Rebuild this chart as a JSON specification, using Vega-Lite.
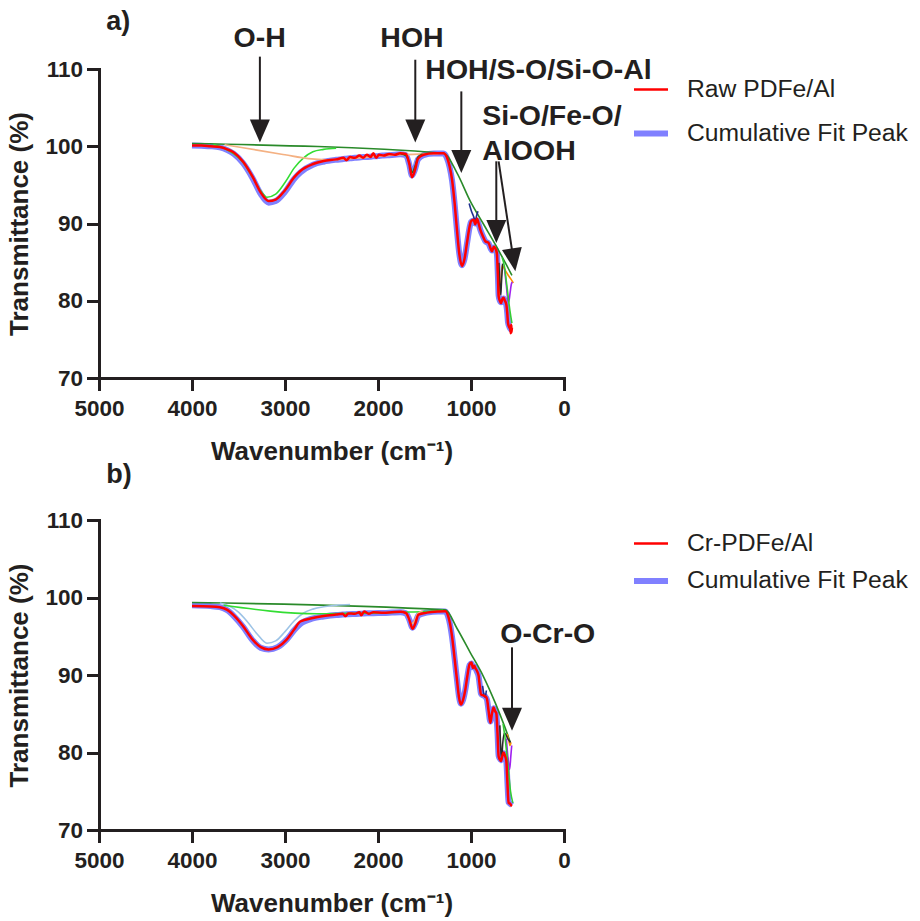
{
  "$schema": "https://vega.github.io/schema/vega-lite/v6.json",
  "background": "white",
  "padding": {"left": 6, "top": 7, "right": 5, "bottom": 5},
  "config": {
    "view": {"stroke": null},
    "font": "Liberation Sans",
    "axis": {
      "grid": false,
      "domainColor": "#231f20", "domainWidth": 3, "domainCap": "square",
      "tickColor": "#231f20", "tickWidth": 3, "tickSize": 12.5,
      "labelFont": "Liberation Sans", "labelFontSize": 22.5, "labelFontWeight": "bold", "labelColor": "#231f20",
      "labelFlush": false, "labelOverlap": false, "labelBound": false,
      "titleFont": "Liberation Sans", "titleFontSize": 26, "titleFontWeight": "bold", "titleColor": "#231f20"
    },
    "axisX": {"labelPadding": 7, "titlePadding": 18},
    "axisY": {"labelPadding": 4, "titlePadding": 12},
    "legend": {
      "labelFont": "Liberation Sans", "labelFontSize": 24.7, "labelColor": "#231f20", "labelLimit": 0,
      "symbolType": "stroke", "symbolSize": 1156, "labelOffset": 16
    }
  },
  "datasets": {
    "a_main": [
      {"wn": 4000, "Raw PDFe/Al": 100.1, "Cumulative Fit Peak": 100.1},
      {"wn": 3900, "Raw PDFe/Al": 100.1, "Cumulative Fit Peak": 100.05},
      {"wn": 3800, "Raw PDFe/Al": 100.0, "Cumulative Fit Peak": 100.0},
      {"wn": 3700, "Raw PDFe/Al": 99.9, "Cumulative Fit Peak": 99.85},
      {"wn": 3620, "Raw PDFe/Al": 99.6, "Cumulative Fit Peak": 99.5},
      {"wn": 3550, "Raw PDFe/Al": 99.2, "Cumulative Fit Peak": 99.0},
      {"wn": 3450, "Raw PDFe/Al": 98.0, "Cumulative Fit Peak": 97.8},
      {"wn": 3350, "Raw PDFe/Al": 96.1, "Cumulative Fit Peak": 95.9},
      {"wn": 3260, "Raw PDFe/Al": 94.0, "Cumulative Fit Peak": 93.8},
      {"wn": 3176, "Raw PDFe/Al": 92.9, "Cumulative Fit Peak": 92.7},
      {"wn": 3100, "Raw PDFe/Al": 93.1, "Cumulative Fit Peak": 92.9},
      {"wn": 3000, "Raw PDFe/Al": 94.3, "Cumulative Fit Peak": 94.1},
      {"wn": 2900, "Raw PDFe/Al": 96.0, "Cumulative Fit Peak": 95.8},
      {"wn": 2835, "Raw PDFe/Al": 96.8, "Cumulative Fit Peak": 96.6},
      {"wn": 2700, "Raw PDFe/Al": 97.7, "Cumulative Fit Peak": 97.6},
      {"wn": 2585, "Raw PDFe/Al": 98.1, "Cumulative Fit Peak": 98.0},
      {"wn": 2450, "Raw PDFe/Al": 98.3, "Cumulative Fit Peak": 98.25},
      {"wn": 2370, "Raw PDFe/Al": 98.5, "Cumulative Fit Peak": 98.35},
      {"wn": 2340, "Raw PDFe/Al": 98.2, "Cumulative Fit Peak": 98.4},
      {"wn": 2300, "Raw PDFe/Al": 98.6, "Cumulative Fit Peak": 98.45},
      {"wn": 2250, "Raw PDFe/Al": 98.5, "Cumulative Fit Peak": 98.5},
      {"wn": 2200, "Raw PDFe/Al": 98.8, "Cumulative Fit Peak": 98.55},
      {"wn": 2160, "Raw PDFe/Al": 98.5, "Cumulative Fit Peak": 98.6},
      {"wn": 2120, "Raw PDFe/Al": 98.9, "Cumulative Fit Peak": 98.6},
      {"wn": 2080, "Raw PDFe/Al": 98.6, "Cumulative Fit Peak": 98.65},
      {"wn": 2050, "Raw PDFe/Al": 99.1, "Cumulative Fit Peak": 98.7},
      {"wn": 2020, "Raw PDFe/Al": 98.5, "Cumulative Fit Peak": 98.7},
      {"wn": 1990, "Raw PDFe/Al": 98.9, "Cumulative Fit Peak": 98.75},
      {"wn": 1940, "Raw PDFe/Al": 98.8, "Cumulative Fit Peak": 98.8},
      {"wn": 1880, "Raw PDFe/Al": 99.0, "Cumulative Fit Peak": 98.85},
      {"wn": 1820, "Raw PDFe/Al": 98.9, "Cumulative Fit Peak": 98.9},
      {"wn": 1760, "Raw PDFe/Al": 99.1, "Cumulative Fit Peak": 98.95},
      {"wn": 1700, "Raw PDFe/Al": 99.0, "Cumulative Fit Peak": 98.85},
      {"wn": 1665, "Raw PDFe/Al": 97.8, "Cumulative Fit Peak": 97.7},
      {"wn": 1634, "Raw PDFe/Al": 96.0, "Cumulative Fit Peak": 96.2},
      {"wn": 1605, "Raw PDFe/Al": 96.8, "Cumulative Fit Peak": 96.9},
      {"wn": 1570, "Raw PDFe/Al": 98.4, "Cumulative Fit Peak": 98.3},
      {"wn": 1510, "Raw PDFe/Al": 98.9, "Cumulative Fit Peak": 98.85},
      {"wn": 1400, "Raw PDFe/Al": 99.1, "Cumulative Fit Peak": 99.05},
      {"wn": 1295, "Raw PDFe/Al": 99.1, "Cumulative Fit Peak": 99.05},
      {"wn": 1260, "Raw PDFe/Al": 98.6, "Cumulative Fit Peak": 98.5},
      {"wn": 1230, "Raw PDFe/Al": 97.4, "Cumulative Fit Peak": 97.3},
      {"wn": 1204, "Raw PDFe/Al": 95.7, "Cumulative Fit Peak": 95.6},
      {"wn": 1175, "Raw PDFe/Al": 92.5, "Cumulative Fit Peak": 92.4},
      {"wn": 1151, "Raw PDFe/Al": 89.2, "Cumulative Fit Peak": 89.1},
      {"wn": 1125, "Raw PDFe/Al": 86.0, "Cumulative Fit Peak": 86.0},
      {"wn": 1097, "Raw PDFe/Al": 84.5, "Cumulative Fit Peak": 84.6},
      {"wn": 1070, "Raw PDFe/Al": 85.4, "Cumulative Fit Peak": 85.4},
      {"wn": 1043, "Raw PDFe/Al": 87.5, "Cumulative Fit Peak": 87.4},
      {"wn": 1015, "Raw PDFe/Al": 89.6, "Cumulative Fit Peak": 89.5},
      {"wn": 1000, "Raw PDFe/Al": 90.3, "Cumulative Fit Peak": 90.2},
      {"wn": 972, "Raw PDFe/Al": 90.5, "Cumulative Fit Peak": 90.4},
      {"wn": 954, "Raw PDFe/Al": 89.9, "Cumulative Fit Peak": 90.0},
      {"wn": 935, "Raw PDFe/Al": 90.6, "Cumulative Fit Peak": 90.4},
      {"wn": 918, "Raw PDFe/Al": 90.0, "Cumulative Fit Peak": 89.9},
      {"wn": 900, "Raw PDFe/Al": 89.2, "Cumulative Fit Peak": 89.2},
      {"wn": 870, "Raw PDFe/Al": 88.3, "Cumulative Fit Peak": 88.3},
      {"wn": 846, "Raw PDFe/Al": 87.7, "Cumulative Fit Peak": 87.7},
      {"wn": 811, "Raw PDFe/Al": 87.5, "Cumulative Fit Peak": 87.4},
      {"wn": 790, "Raw PDFe/Al": 86.8, "Cumulative Fit Peak": 86.8},
      {"wn": 774, "Raw PDFe/Al": 86.4, "Cumulative Fit Peak": 86.5},
      {"wn": 755, "Raw PDFe/Al": 87.0, "Cumulative Fit Peak": 86.9},
      {"wn": 739, "Raw PDFe/Al": 86.8, "Cumulative Fit Peak": 86.7},
      {"wn": 722, "Raw PDFe/Al": 86.2, "Cumulative Fit Peak": 86.1},
      {"wn": 710, "Raw PDFe/Al": 83.0, "Cumulative Fit Peak": 83.0},
      {"wn": 703, "Raw PDFe/Al": 80.6, "Cumulative Fit Peak": 80.7},
      {"wn": 690, "Raw PDFe/Al": 80.0, "Cumulative Fit Peak": 80.0},
      {"wn": 677, "Raw PDFe/Al": 79.7, "Cumulative Fit Peak": 79.8},
      {"wn": 660, "Raw PDFe/Al": 80.3, "Cumulative Fit Peak": 80.2},
      {"wn": 649, "Raw PDFe/Al": 80.4, "Cumulative Fit Peak": 80.3},
      {"wn": 635, "Raw PDFe/Al": 80.0, "Cumulative Fit Peak": 80.0},
      {"wn": 620, "Raw PDFe/Al": 79.5, "Cumulative Fit Peak": 79.4},
      {"wn": 610, "Raw PDFe/Al": 78.4, "Cumulative Fit Peak": 78.4},
      {"wn": 602, "Raw PDFe/Al": 77.1, "Cumulative Fit Peak": 77.2},
      {"wn": 590, "Raw PDFe/Al": 76.6, "Cumulative Fit Peak": 76.7},
      {"wn": 578, "Raw PDFe/Al": 76.3, "Cumulative Fit Peak": 76.4},
      {"wn": 572, "Raw PDFe/Al": 75.8, "Cumulative Fit Peak": 76.3},
      {"wn": 568, "Raw PDFe/Al": 76.9, "Cumulative Fit Peak": 76.3},
      {"wn": 564, "Raw PDFe/Al": 75.9, "Cumulative Fit Peak": 76.3},
      {"wn": 560, "Raw PDFe/Al": 76.5, "Cumulative Fit Peak": 76.3}
    ],
    "a_comp": [
      {"comp": "Baseline", "wn": 4000, "t": 100.35},
      {"comp": "Baseline", "wn": 1295, "t": 99.1},
      {"comp": "Baseline", "wn": 1151, "t": 96.55},
      {"comp": "Baseline", "wn": 1008, "t": 92.9},
      {"comp": "Baseline", "wn": 865, "t": 89.9},
      {"comp": "Baseline", "wn": 739, "t": 87.3},
      {"comp": "Baseline", "wn": 613, "t": 84.5},
      {"comp": "Baseline", "wn": 560, "t": 83.3},
      {"comp": "OH", "wn": 3770, "t": 100.25},
      {"comp": "OH", "wn": 3650, "t": 99.7},
      {"comp": "OH", "wn": 3550, "t": 99.0},
      {"comp": "OH", "wn": 3450, "t": 97.9},
      {"comp": "OH", "wn": 3350, "t": 96.0},
      {"comp": "OH", "wn": 3260, "t": 94.2},
      {"comp": "OH", "wn": 3194, "t": 93.4},
      {"comp": "OH", "wn": 3100, "t": 93.8},
      {"comp": "OH", "wn": 3000, "t": 95.3},
      {"comp": "OH", "wn": 2900, "t": 97.2},
      {"comp": "OH", "wn": 2800, "t": 98.5},
      {"comp": "OH", "wn": 2700, "t": 99.3},
      {"comp": "OH", "wn": 2585, "t": 99.6},
      {"comp": "OH", "wn": 2450, "t": 99.75},
      {"comp": "Broad", "wn": 3650, "t": 100.2},
      {"comp": "Broad", "wn": 3300, "t": 99.5},
      {"comp": "Broad", "wn": 3000, "t": 98.9},
      {"comp": "Broad", "wn": 2750, "t": 98.4},
      {"comp": "Broad", "wn": 2550, "t": 98.25},
      {"comp": "Broad", "wn": 2300, "t": 98.4},
      {"comp": "Broad", "wn": 2000, "t": 98.7},
      {"comp": "Broad", "wn": 1750, "t": 98.9},
      {"comp": "Broad", "wn": 1500, "t": 99.0},
      {"comp": "Broad", "wn": 1350, "t": 99.05},
      {"comp": "HOH", "wn": 1760, "t": 99.05},
      {"comp": "HOH", "wn": 1700, "t": 98.8},
      {"comp": "HOH", "wn": 1665, "t": 97.9},
      {"comp": "HOH", "wn": 1634, "t": 96.6},
      {"comp": "HOH", "wn": 1605, "t": 97.3},
      {"comp": "HOH", "wn": 1570, "t": 98.6},
      {"comp": "HOH", "wn": 1520, "t": 99.0},
      {"comp": "FP1", "wn": 1020, "t": 92.6},
      {"comp": "FP1", "wn": 995, "t": 91.6},
      {"comp": "FP1", "wn": 972, "t": 90.9},
      {"comp": "FP1", "wn": 955, "t": 90.3},
      {"comp": "FP1", "wn": 940, "t": 91.0},
      {"comp": "FP1", "wn": 925, "t": 91.6},
      {"comp": "FP2", "wn": 745, "t": 87.1},
      {"comp": "FP2", "wn": 720, "t": 85.6},
      {"comp": "FP2", "wn": 705, "t": 81.5},
      {"comp": "FP2", "wn": 692, "t": 80.6},
      {"comp": "FP2", "wn": 680, "t": 82.2},
      {"comp": "FP2", "wn": 665, "t": 84.6},
      {"comp": "FP2", "wn": 640, "t": 84.1},
      {"comp": "FP2", "wn": 600, "t": 83.3},
      {"comp": "FP2", "wn": 560, "t": 82.6},
      {"comp": "FP2", "wn": 545, "t": 82.3},
      {"comp": "FP3", "wn": 640, "t": 84.2},
      {"comp": "FP3", "wn": 620, "t": 82.0},
      {"comp": "FP3", "wn": 605, "t": 80.2},
      {"comp": "FP3", "wn": 595, "t": 79.8},
      {"comp": "FP3", "wn": 580, "t": 81.0},
      {"comp": "FP3", "wn": 565, "t": 82.2},
      {"comp": "FP3", "wn": 555, "t": 82.4},
      {"comp": "FP4", "wn": 700, "t": 84.9},
      {"comp": "FP4", "wn": 690, "t": 82.0},
      {"comp": "FP4", "wn": 680, "t": 80.8},
      {"comp": "FP4", "wn": 672, "t": 82.5},
      {"comp": "FP4", "wn": 660, "t": 84.8},
      {"comp": "FP5", "wn": 665, "t": 85.6},
      {"comp": "FP5", "wn": 640, "t": 84.4},
      {"comp": "FP5", "wn": 620, "t": 82.5},
      {"comp": "FP5", "wn": 600, "t": 80.5},
      {"comp": "FP5", "wn": 580, "t": 78.6},
      {"comp": "FP5", "wn": 560, "t": 77.1}
    ],
    "a_rules": [
      {"wn": 3270, "wn2": 3270, "t": 111.6, "t2": 102.5},
      {"wn": 1599, "wn2": 1599, "t": 111.2, "t2": 102.5},
      {"wn": 1104, "wn2": 1104, "t": 107.1, "t2": 98.7},
      {"wn": 728, "wn2": 728, "t": 98.05, "t2": 89.6},
      {"wn": 703, "wn2": 551, "t": 98.05, "t2": 85.9}
    ],
    "a_heads": [
      {"kind": "straight", "wn": 3270, "t": 101.96},
      {"kind": "straight", "wn": 1599, "t": 101.96},
      {"kind": "straight", "wn": 1104, "t": 98.02},
      {"kind": "straight", "wn": 728, "t": 88.98},
      {"kind": "slanted", "wn": 542, "t": 85.3}
    ],
    "a_text": [
      {"label": "O-H", "wn": 3553, "t": 112.8},
      {"label": "HOH", "wn": 1975, "t": 112.85},
      {"label": "HOH/S-O/Si-O-Al", "wn": 1491, "t": 108.76},
      {"label": "Si-O/Fe-O/", "wn": 878, "t": 102.74},
      {"label": "AlOOH", "wn": 878, "t": 98.27}
    ],
    "a_panel": [{"label": "a)", "wn": 4922, "t": 115.1}],
    "b_main": [
      {"wn": 4000, "Cr-PDFe/Al": 98.9, "Cumulative Fit Peak": 99.0},
      {"wn": 3800, "Cr-PDFe/Al": 98.85, "Cumulative Fit Peak": 98.9},
      {"wn": 3700, "Cr-PDFe/Al": 98.75, "Cumulative Fit Peak": 98.75},
      {"wn": 3620, "Cr-PDFe/Al": 98.4, "Cumulative Fit Peak": 98.35},
      {"wn": 3550, "Cr-PDFe/Al": 97.7, "Cumulative Fit Peak": 97.6},
      {"wn": 3450, "Cr-PDFe/Al": 96.3, "Cumulative Fit Peak": 96.2},
      {"wn": 3350, "Cr-PDFe/Al": 94.6, "Cumulative Fit Peak": 94.5},
      {"wn": 3260, "Cr-PDFe/Al": 93.6, "Cumulative Fit Peak": 93.5},
      {"wn": 3176, "Cr-PDFe/Al": 93.3, "Cumulative Fit Peak": 93.3},
      {"wn": 3080, "Cr-PDFe/Al": 93.6, "Cumulative Fit Peak": 93.6},
      {"wn": 2980, "Cr-PDFe/Al": 94.6, "Cumulative Fit Peak": 94.6},
      {"wn": 2900, "Cr-PDFe/Al": 95.9, "Cumulative Fit Peak": 95.8},
      {"wn": 2835, "Cr-PDFe/Al": 96.9, "Cumulative Fit Peak": 96.6},
      {"wn": 2700, "Cr-PDFe/Al": 97.35, "Cumulative Fit Peak": 97.3},
      {"wn": 2585, "Cr-PDFe/Al": 97.6, "Cumulative Fit Peak": 97.55},
      {"wn": 2450, "Cr-PDFe/Al": 97.8, "Cumulative Fit Peak": 97.75},
      {"wn": 2380, "Cr-PDFe/Al": 97.9, "Cumulative Fit Peak": 97.8},
      {"wn": 2350, "Cr-PDFe/Al": 97.6, "Cumulative Fit Peak": 97.82},
      {"wn": 2320, "Cr-PDFe/Al": 97.95, "Cumulative Fit Peak": 97.85},
      {"wn": 2250, "Cr-PDFe/Al": 97.9, "Cumulative Fit Peak": 97.88},
      {"wn": 2200, "Cr-PDFe/Al": 98.1, "Cumulative Fit Peak": 97.9},
      {"wn": 2180, "Cr-PDFe/Al": 97.7, "Cumulative Fit Peak": 97.92},
      {"wn": 2150, "Cr-PDFe/Al": 98.2, "Cumulative Fit Peak": 97.94},
      {"wn": 2100, "Cr-PDFe/Al": 97.9, "Cumulative Fit Peak": 97.96},
      {"wn": 2050, "Cr-PDFe/Al": 98.1, "Cumulative Fit Peak": 97.98},
      {"wn": 1940, "Cr-PDFe/Al": 98.03, "Cumulative Fit Peak": 98.0},
      {"wn": 1850, "Cr-PDFe/Al": 98.1, "Cumulative Fit Peak": 98.05},
      {"wn": 1760, "Cr-PDFe/Al": 98.16, "Cumulative Fit Peak": 98.1},
      {"wn": 1700, "Cr-PDFe/Al": 98.0, "Cumulative Fit Peak": 97.95},
      {"wn": 1665, "Cr-PDFe/Al": 97.2, "Cumulative Fit Peak": 97.2},
      {"wn": 1628, "Cr-PDFe/Al": 95.97, "Cumulative Fit Peak": 96.1},
      {"wn": 1600, "Cr-PDFe/Al": 96.6, "Cumulative Fit Peak": 96.7},
      {"wn": 1565, "Cr-PDFe/Al": 97.8, "Cumulative Fit Peak": 97.7},
      {"wn": 1475, "Cr-PDFe/Al": 98.05, "Cumulative Fit Peak": 98.05},
      {"wn": 1350, "Cr-PDFe/Al": 98.2, "Cumulative Fit Peak": 98.2},
      {"wn": 1276, "Cr-PDFe/Al": 98.24, "Cumulative Fit Peak": 98.2},
      {"wn": 1245, "Cr-PDFe/Al": 97.6, "Cumulative Fit Peak": 97.5},
      {"wn": 1225, "Cr-PDFe/Al": 96.6, "Cumulative Fit Peak": 96.5},
      {"wn": 1204, "Cr-PDFe/Al": 95.0, "Cumulative Fit Peak": 94.9},
      {"wn": 1175, "Cr-PDFe/Al": 92.0, "Cumulative Fit Peak": 92.0},
      {"wn": 1151, "Cr-PDFe/Al": 89.4, "Cumulative Fit Peak": 89.4},
      {"wn": 1130, "Cr-PDFe/Al": 87.2, "Cumulative Fit Peak": 87.3},
      {"wn": 1108, "Cr-PDFe/Al": 86.2, "Cumulative Fit Peak": 86.3},
      {"wn": 1085, "Cr-PDFe/Al": 86.8, "Cumulative Fit Peak": 86.8},
      {"wn": 1061, "Cr-PDFe/Al": 88.1, "Cumulative Fit Peak": 88.1},
      {"wn": 1040, "Cr-PDFe/Al": 89.8, "Cumulative Fit Peak": 89.7},
      {"wn": 1015, "Cr-PDFe/Al": 91.4, "Cumulative Fit Peak": 91.3},
      {"wn": 995, "Cr-PDFe/Al": 91.6, "Cumulative Fit Peak": 91.5},
      {"wn": 979, "Cr-PDFe/Al": 90.9, "Cumulative Fit Peak": 91.0},
      {"wn": 965, "Cr-PDFe/Al": 91.2, "Cumulative Fit Peak": 91.1},
      {"wn": 954, "Cr-PDFe/Al": 90.9, "Cumulative Fit Peak": 90.9},
      {"wn": 935, "Cr-PDFe/Al": 90.5, "Cumulative Fit Peak": 90.4},
      {"wn": 918, "Cr-PDFe/Al": 89.9, "Cumulative Fit Peak": 89.8},
      {"wn": 905, "Cr-PDFe/Al": 88.5, "Cumulative Fit Peak": 88.6},
      {"wn": 893, "Cr-PDFe/Al": 87.5, "Cumulative Fit Peak": 87.6},
      {"wn": 875, "Cr-PDFe/Al": 87.4, "Cumulative Fit Peak": 87.4},
      {"wn": 857, "Cr-PDFe/Al": 87.3, "Cumulative Fit Peak": 87.3},
      {"wn": 840, "Cr-PDFe/Al": 87.2, "Cumulative Fit Peak": 87.1},
      {"wn": 828, "Cr-PDFe/Al": 86.9, "Cumulative Fit Peak": 86.8},
      {"wn": 810, "Cr-PDFe/Al": 85.3, "Cumulative Fit Peak": 85.3},
      {"wn": 792, "Cr-PDFe/Al": 83.85, "Cumulative Fit Peak": 84.0},
      {"wn": 775, "Cr-PDFe/Al": 85.0, "Cumulative Fit Peak": 85.0},
      {"wn": 757, "Cr-PDFe/Al": 85.8, "Cumulative Fit Peak": 85.7},
      {"wn": 740, "Cr-PDFe/Al": 85.3, "Cumulative Fit Peak": 85.3},
      {"wn": 728, "Cr-PDFe/Al": 85.1, "Cumulative Fit Peak": 85.0},
      {"wn": 715, "Cr-PDFe/Al": 82.5, "Cumulative Fit Peak": 82.6},
      {"wn": 703, "Cr-PDFe/Al": 79.5, "Cumulative Fit Peak": 79.6},
      {"wn": 690, "Cr-PDFe/Al": 79.1, "Cumulative Fit Peak": 79.2},
      {"wn": 677, "Cr-PDFe/Al": 78.9, "Cumulative Fit Peak": 79.0},
      {"wn": 662, "Cr-PDFe/Al": 79.6, "Cumulative Fit Peak": 79.6},
      {"wn": 649, "Cr-PDFe/Al": 80.0, "Cumulative Fit Peak": 79.9},
      {"wn": 635, "Cr-PDFe/Al": 79.6, "Cumulative Fit Peak": 79.5},
      {"wn": 620, "Cr-PDFe/Al": 78.9, "Cumulative Fit Peak": 78.8},
      {"wn": 608, "Cr-PDFe/Al": 76.0, "Cumulative Fit Peak": 76.1},
      {"wn": 596, "Cr-PDFe/Al": 73.5, "Cumulative Fit Peak": 73.6},
      {"wn": 580, "Cr-PDFe/Al": 73.4, "Cumulative Fit Peak": 73.4},
      {"wn": 569, "Cr-PDFe/Al": 73.2, "Cumulative Fit Peak": 73.3},
      {"wn": 559, "Cr-PDFe/Al": 73.1, "Cumulative Fit Peak": 73.2}
    ],
    "b_comp": [
      {"comp": "Baseline", "wn": 4000, "t": 99.35},
      {"comp": "Baseline", "wn": 1276, "t": 98.4},
      {"comp": "Baseline", "wn": 1150, "t": 96.0},
      {"comp": "Baseline", "wn": 1008, "t": 92.9},
      {"comp": "Baseline", "wn": 870, "t": 89.9},
      {"comp": "Baseline", "wn": 739, "t": 86.4},
      {"comp": "Baseline", "wn": 640, "t": 83.4},
      {"comp": "Baseline", "wn": 577, "t": 81.3},
      {"comp": "OH", "wn": 3700, "t": 99.3},
      {"comp": "OH", "wn": 3600, "t": 98.9},
      {"comp": "OH", "wn": 3500, "t": 98.1},
      {"comp": "OH", "wn": 3400, "t": 96.8},
      {"comp": "OH", "wn": 3300, "t": 95.3},
      {"comp": "OH", "wn": 3194, "t": 94.1},
      {"comp": "OH", "wn": 3100, "t": 94.4},
      {"comp": "OH", "wn": 3000, "t": 95.6},
      {"comp": "OH", "wn": 2900, "t": 97.0},
      {"comp": "OH", "wn": 2800, "t": 98.0},
      {"comp": "OH", "wn": 2700, "t": 98.5},
      {"comp": "OH", "wn": 2585, "t": 98.8},
      {"comp": "OH", "wn": 2450, "t": 99.0},
      {"comp": "OH", "wn": 2300, "t": 99.1},
      {"comp": "Broad", "wn": 3660, "t": 99.0},
      {"comp": "Broad", "wn": 2656, "t": 97.9},
      {"comp": "Broad", "wn": 2300, "t": 97.95},
      {"comp": "Broad", "wn": 2000, "t": 98.0},
      {"comp": "Broad", "wn": 1760, "t": 98.1},
      {"comp": "Broad", "wn": 1500, "t": 98.2},
      {"comp": "Broad", "wn": 1300, "t": 98.35},
      {"comp": "HOH", "wn": 1740, "t": 98.3},
      {"comp": "HOH", "wn": 1690, "t": 97.7},
      {"comp": "HOH", "wn": 1640, "t": 96.6},
      {"comp": "HOH", "wn": 1610, "t": 96.9},
      {"comp": "HOH", "wn": 1575, "t": 97.9},
      {"comp": "HOH", "wn": 1520, "t": 98.25},
      {"comp": "FP1", "wn": 875, "t": 88.6},
      {"comp": "FP1", "wn": 860, "t": 87.4},
      {"comp": "FP1", "wn": 848, "t": 87.1},
      {"comp": "FP1", "wn": 835, "t": 88.0},
      {"comp": "FP2", "wn": 612, "t": 82.4},
      {"comp": "FP2", "wn": 595, "t": 81.6},
      {"comp": "FP2", "wn": 580, "t": 80.9},
      {"comp": "FP2", "wn": 570, "t": 81.3},
      {"comp": "FP3", "wn": 620, "t": 81.8},
      {"comp": "FP3", "wn": 600, "t": 79.0},
      {"comp": "FP3", "wn": 585, "t": 77.8},
      {"comp": "FP3", "wn": 572, "t": 79.5},
      {"comp": "FP3", "wn": 562, "t": 80.9},
      {"comp": "FP4", "wn": 690, "t": 83.5},
      {"comp": "FP4", "wn": 680, "t": 80.5},
      {"comp": "FP4", "wn": 670, "t": 79.1},
      {"comp": "FP4", "wn": 660, "t": 81.0},
      {"comp": "FP4", "wn": 640, "t": 82.5},
      {"comp": "FP4", "wn": 600, "t": 81.7},
      {"comp": "FP4", "wn": 575, "t": 81.3},
      {"comp": "FP5", "wn": 655, "t": 83.7},
      {"comp": "FP5", "wn": 630, "t": 81.5},
      {"comp": "FP5", "wn": 600, "t": 78.0},
      {"comp": "FP5", "wn": 575, "t": 75.0},
      {"comp": "FP5", "wn": 550, "t": 73.5}
    ],
    "b_rules": [
      {"wn": 559, "wn2": 559, "t": 93.57, "t2": 85.1}
    ],
    "b_heads": [
      {"kind": "straight", "wn": 559, "t": 84.3}
    ],
    "b_text": [
      {"label": "O-Cr-O", "wn": 685, "t": 94.17}
    ],
    "b_panel": [{"label": "b)", "wn": 4922, "t": 114.8}]
  },
  "bounds": "flush",
  "spacing": 142,
  "resolve": {
    "scale": {"x": "independent", "y": "independent", "color": "independent", "strokeWidth": "independent", "stroke": "independent"},
    "legend": {"color": "independent", "strokeWidth": "independent"}
  },
  "vconcat": [
    {
      "width": 465,
      "height": 309,
      "encoding": {
        "x": {"field": "wn", "type": "quantitative", "title": "Wavenumber (cm⁻¹)",
              "scale": {"domain": [0, 5000], "reverse": true, "nice": false},
              "axis": {"values": [0, 1000, 2000, 3000, 4000, 5000], "format": "d"}},
        "y": {"field": "t", "type": "quantitative", "title": "Transmittance (%)",
              "scale": {"domain": [70, 110], "nice": false, "zero": false},
              "axis": {"values": [70, 80, 90, 100, 110]}}
      },
      "layer": [
        {
          "data": {"name": "a_main"},
          "transform": [{"fold": ["Raw PDFe/Al", "Cumulative Fit Peak"], "as": ["series", "t"]}, {"filter": "datum.series === 'Cumulative Fit Peak'"}],
          "mark": {"type": "line", "interpolate": "monotone", "clip": false},
          "encoding": {
            "color": {"field": "series", "type": "nominal", "scale": {"domain": ["Raw PDFe/Al", "Cumulative Fit Peak"], "range": ["#ff0000", "#8080ff"]},
                      "legend": {"title": null, "orient": "none", "legendX": 532, "legendY": 2, "rowPadding": 11.5}},
            "strokeWidth": {"field": "series", "type": "nominal", "scale": {"domain": ["Raw PDFe/Al", "Cumulative Fit Peak"], "range": [2.5, 6]},
                      "legend": {"title": null, "orient": "none", "legendX": 532, "legendY": 2, "rowPadding": 11.5}}
          }
        },
        {
          "data": {"name": "a_comp"},
          "mark": {"type": "line", "interpolate": "monotone", "strokeWidth": 1.6, "clip": false},
          "encoding": {
            "stroke": {"field": "comp", "type": "nominal", "legend": null,
                       "scale": {"domain": ["Baseline", "OH", "Broad", "HOH", "FP1", "FP2", "FP3", "FP4", "FP5"],
                                 "range": ["#2a8a2a", "#33dd33", "#f4b183", "#1e6e1e", "#1f2f8f", "#ff8c00", "#a020f0", "#2b2b2b", "#33cc33"]}}
          }
        },
        {
          "data": {"name": "a_main"},
          "transform": [{"fold": ["Raw PDFe/Al", "Cumulative Fit Peak"], "as": ["series", "t"]}, {"filter": "datum.series === 'Raw PDFe/Al'"}],
          "mark": {"type": "line", "interpolate": "monotone", "clip": false},
          "encoding": {
            "color": {"field": "series", "type": "nominal", "scale": {"domain": ["Raw PDFe/Al", "Cumulative Fit Peak"], "range": ["#ff0000", "#8080ff"]},
                      "legend": {"title": null, "orient": "none", "legendX": 532, "legendY": 2, "rowPadding": 11.5}},
            "strokeWidth": {"field": "series", "type": "nominal", "scale": {"domain": ["Raw PDFe/Al", "Cumulative Fit Peak"], "range": [2.5, 6]},
                      "legend": {"title": null, "orient": "none", "legendX": 532, "legendY": 2, "rowPadding": 11.5}}
          }
        },
        {
          "data": {"name": "a_rules"},
          "mark": {"type": "rule", "color": "#231f20", "strokeWidth": 2, "clip": false},
          "encoding": {"x2": {"field": "wn2"}, "y2": {"field": "t2"}}
        },
        {
          "data": {"name": "a_heads"},
          "transform": [{"filter": "datum.kind === 'straight'"}],
          "mark": {"type": "point", "shape": "M-1,-1.15L1,-1.15L0,1.15Z", "size": 400, "filled": true, "color": "#231f20", "opacity": 1, "clip": false}
        },
        {
          "data": {"name": "a_heads"},
          "transform": [{"filter": "datum.kind === 'slanted'"}],
          "mark": {"type": "point", "shape": "M-1,-1.15L1,-1.15L0,1.15Z", "size": 400, "filled": true, "color": "#231f20", "opacity": 1, "angle": -8.6, "clip": false}
        },
        {
          "data": {"name": "a_text"},
          "mark": {"type": "text", "align": "left", "baseline": "alphabetic", "font": "Liberation Sans", "fontSize": 28.5, "fontWeight": "bold", "color": "#231f20", "clip": false},
          "encoding": {"text": {"field": "label"}}
        },
        {
          "data": {"name": "a_panel"},
          "mark": {"type": "text", "align": "left", "baseline": "alphabetic", "font": "Liberation Sans", "fontSize": 27, "fontWeight": "bold", "color": "#231f20", "clip": false},
          "encoding": {"text": {"field": "label"}}
        }
      ]
    },
    {
      "width": 465,
      "height": 310,
      "encoding": {
        "x": {"field": "wn", "type": "quantitative", "title": "Wavenumber (cm⁻¹)",
              "scale": {"domain": [0, 5000], "reverse": true, "nice": false},
              "axis": {"values": [0, 1000, 2000, 3000, 4000, 5000], "format": "d"}},
        "y": {"field": "t", "type": "quantitative", "title": "Transmittance (%)",
              "scale": {"domain": [70, 110], "nice": false, "zero": false},
              "axis": {"values": [70, 80, 90, 100, 110]}}
      },
      "layer": [
        {
          "data": {"name": "b_main"},
          "transform": [{"fold": ["Cr-PDFe/Al", "Cumulative Fit Peak"], "as": ["series", "t"]}, {"filter": "datum.series === 'Cumulative Fit Peak'"}],
          "mark": {"type": "line", "interpolate": "monotone", "clip": false},
          "encoding": {
            "color": {"field": "series", "type": "nominal", "scale": {"domain": ["Cr-PDFe/Al", "Cumulative Fit Peak"], "range": ["#ff0000", "#8080ff"]},
                      "legend": {"title": null, "orient": "none", "legendX": 532, "legendY": 5, "rowPadding": 5}},
            "strokeWidth": {"field": "series", "type": "nominal", "scale": {"domain": ["Cr-PDFe/Al", "Cumulative Fit Peak"], "range": [2.5, 6]},
                      "legend": {"title": null, "orient": "none", "legendX": 532, "legendY": 5, "rowPadding": 5}}
          }
        },
        {
          "data": {"name": "b_comp"},
          "mark": {"type": "line", "interpolate": "monotone", "strokeWidth": 1.6, "clip": false},
          "encoding": {
            "stroke": {"field": "comp", "type": "nominal", "legend": null,
                       "scale": {"domain": ["Baseline", "OH", "Broad", "HOH", "FP1", "FP2", "FP3", "FP4", "FP5"],
                                 "range": ["#2a8a2a", "#9dc3e6", "#33dd33", "#f4b183", "#1f2f8f", "#ff8c00", "#a020f0", "#2b2b2b", "#33cc33"]}}
          }
        },
        {
          "data": {"name": "b_main"},
          "transform": [{"fold": ["Cr-PDFe/Al", "Cumulative Fit Peak"], "as": ["series", "t"]}, {"filter": "datum.series === 'Cr-PDFe/Al'"}],
          "mark": {"type": "line", "interpolate": "monotone", "clip": false},
          "encoding": {
            "color": {"field": "series", "type": "nominal", "scale": {"domain": ["Cr-PDFe/Al", "Cumulative Fit Peak"], "range": ["#ff0000", "#8080ff"]},
                      "legend": {"title": null, "orient": "none", "legendX": 532, "legendY": 5, "rowPadding": 5}},
            "strokeWidth": {"field": "series", "type": "nominal", "scale": {"domain": ["Cr-PDFe/Al", "Cumulative Fit Peak"], "range": [2.5, 6]},
                      "legend": {"title": null, "orient": "none", "legendX": 532, "legendY": 5, "rowPadding": 5}}
          }
        },
        {
          "data": {"name": "b_rules"},
          "mark": {"type": "rule", "color": "#231f20", "strokeWidth": 2, "clip": false},
          "encoding": {"x2": {"field": "wn2"}, "y2": {"field": "t2"}}
        },
        {
          "data": {"name": "b_heads"},
          "mark": {"type": "point", "shape": "M-1,-1.15L1,-1.15L0,1.15Z", "size": 400, "filled": true, "color": "#231f20", "opacity": 1, "clip": false}
        },
        {
          "data": {"name": "b_text"},
          "mark": {"type": "text", "align": "left", "baseline": "alphabetic", "font": "Liberation Sans", "fontSize": 28.5, "fontWeight": "bold", "color": "#231f20", "clip": false},
          "encoding": {"text": {"field": "label"}}
        },
        {
          "data": {"name": "b_panel"},
          "mark": {"type": "text", "align": "left", "baseline": "alphabetic", "font": "Liberation Sans", "fontSize": 27, "fontWeight": "bold", "color": "#231f20", "clip": false},
          "encoding": {"text": {"field": "label"}}
        }
      ]
    }
  ]
}
